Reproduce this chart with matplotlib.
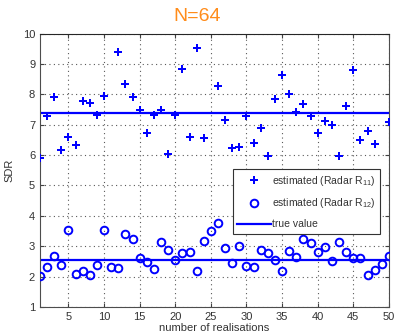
import numpy as np
import matplotlib
matplotlib.use("Agg")
import matplotlib.pyplot as plt

# valeurs
realisations = np.arange(1, 51)
sdr_r11 = [5.90, 7.30, 7.90, 6.16, 6.58, 6.34, 7.77, 7.72, 7.32, 7.96,
           np.nan, 9.38, 8.35, 7.92, 7.47, 6.72, 7.33, 7.48, 6.05, 7.33,
           8.82, 6.60, 9.53, 6.55, np.nan, 8.28, 7.16, 6.25, 6.27, 7.30,
           6.39, 6.89, 5.97, 7.85, 8.64, 8.01, 7.41, 7.69, 7.30, 6.72,
           7.11, 7.00, 5.97, 7.63, 8.80, 6.50, 6.80, 6.36, np.nan, 7.09]
sdr_r12 = [2.03, 2.33, 2.68, 2.37, 3.55, 2.10, 2.19, 2.05, 2.37, 3.55,
           2.33, 2.29, 3.40, 3.25, 2.61, 2.48, 2.26, 3.15, 2.89, 2.55,
           2.78, 2.82, 2.18, 3.18, 3.50, 3.76, 2.95, 2.44, 3.00, 2.36,
           2.31, 2.89, 2.77, 2.55, 2.19, 2.84, 2.65, 3.23, 3.10, 2.82,
           2.97, 2.50, 3.13, 2.82, 2.61, 2.61, 2.05, 2.21, 2.42, 2.68]
true_r11 = 7.38
true_r12 = 2.54
title = "N=64"

plt.rcParams["font.family"] = ["Liberation Sans", "DejaVu Sans"]
plt.rcParams["mathtext.default"] = "regular"

fig = plt.figure(figsize=(3.94, 3.35), dpi=100)
ax = fig.add_axes([0.1015, 0.0836, 0.8855, 0.8161])
blue = "#0000ff"
ax.plot(realisations, sdr_r11, "P", color=blue, ms=6, mew=0, label="estimated (Radar R$_{11}$)", zorder=3)
ax.plot(realisations, sdr_r12, "o", mfc="none", mec=blue, ms=5.5, mew=1.4, label="estimated (Radar R$_{12}$)", zorder=3)
ax.axhline(true_r11, color=blue, lw=1.6, label="true value", zorder=2)
ax.axhline(true_r12, color=blue, lw=1.6, zorder=2)

ax.set_xlim(1, 50); ax.set_ylim(1, 10)
ax.set_xticks(range(5, 51, 5)); ax.set_yticks(range(1, 11))
ax.grid(True, ls=(0, (1, 3)), color="0.35", lw=0.8)
ax.tick_params(direction="in", top=True, right=True, labelsize=8, length=3, colors="0.25", labelcolor="0.2")
for s in ax.spines.values():
    s.set_color("0.3"); s.set_linewidth(0.8)
ax.spines["top"].set_color("0.15")
ax.set_xlabel("number of realisations", fontsize=8, color="0.2", labelpad=1)
ax.set_ylabel("SDR", fontsize=8, color="0.2", labelpad=6)
fig.text(0.5, 0.95, title, ha="center", va="center", fontsize=14, color="#ff8c1a")

leg = ax.legend(loc="upper left", bbox_to_anchor=(0.552, 0.505), fontsize=7.5, frameon=True,
                fancybox=False, edgecolor="0.2", framealpha=1, borderpad=0.45, labelspacing=0.85,
                handlelength=3.2, handletextpad=0.1, borderaxespad=0)
leg.get_frame().set_linewidth(0.8)
for t in leg.get_texts():
    t.set_color("0.2")

fig.savefig("out.png", dpi=100)
